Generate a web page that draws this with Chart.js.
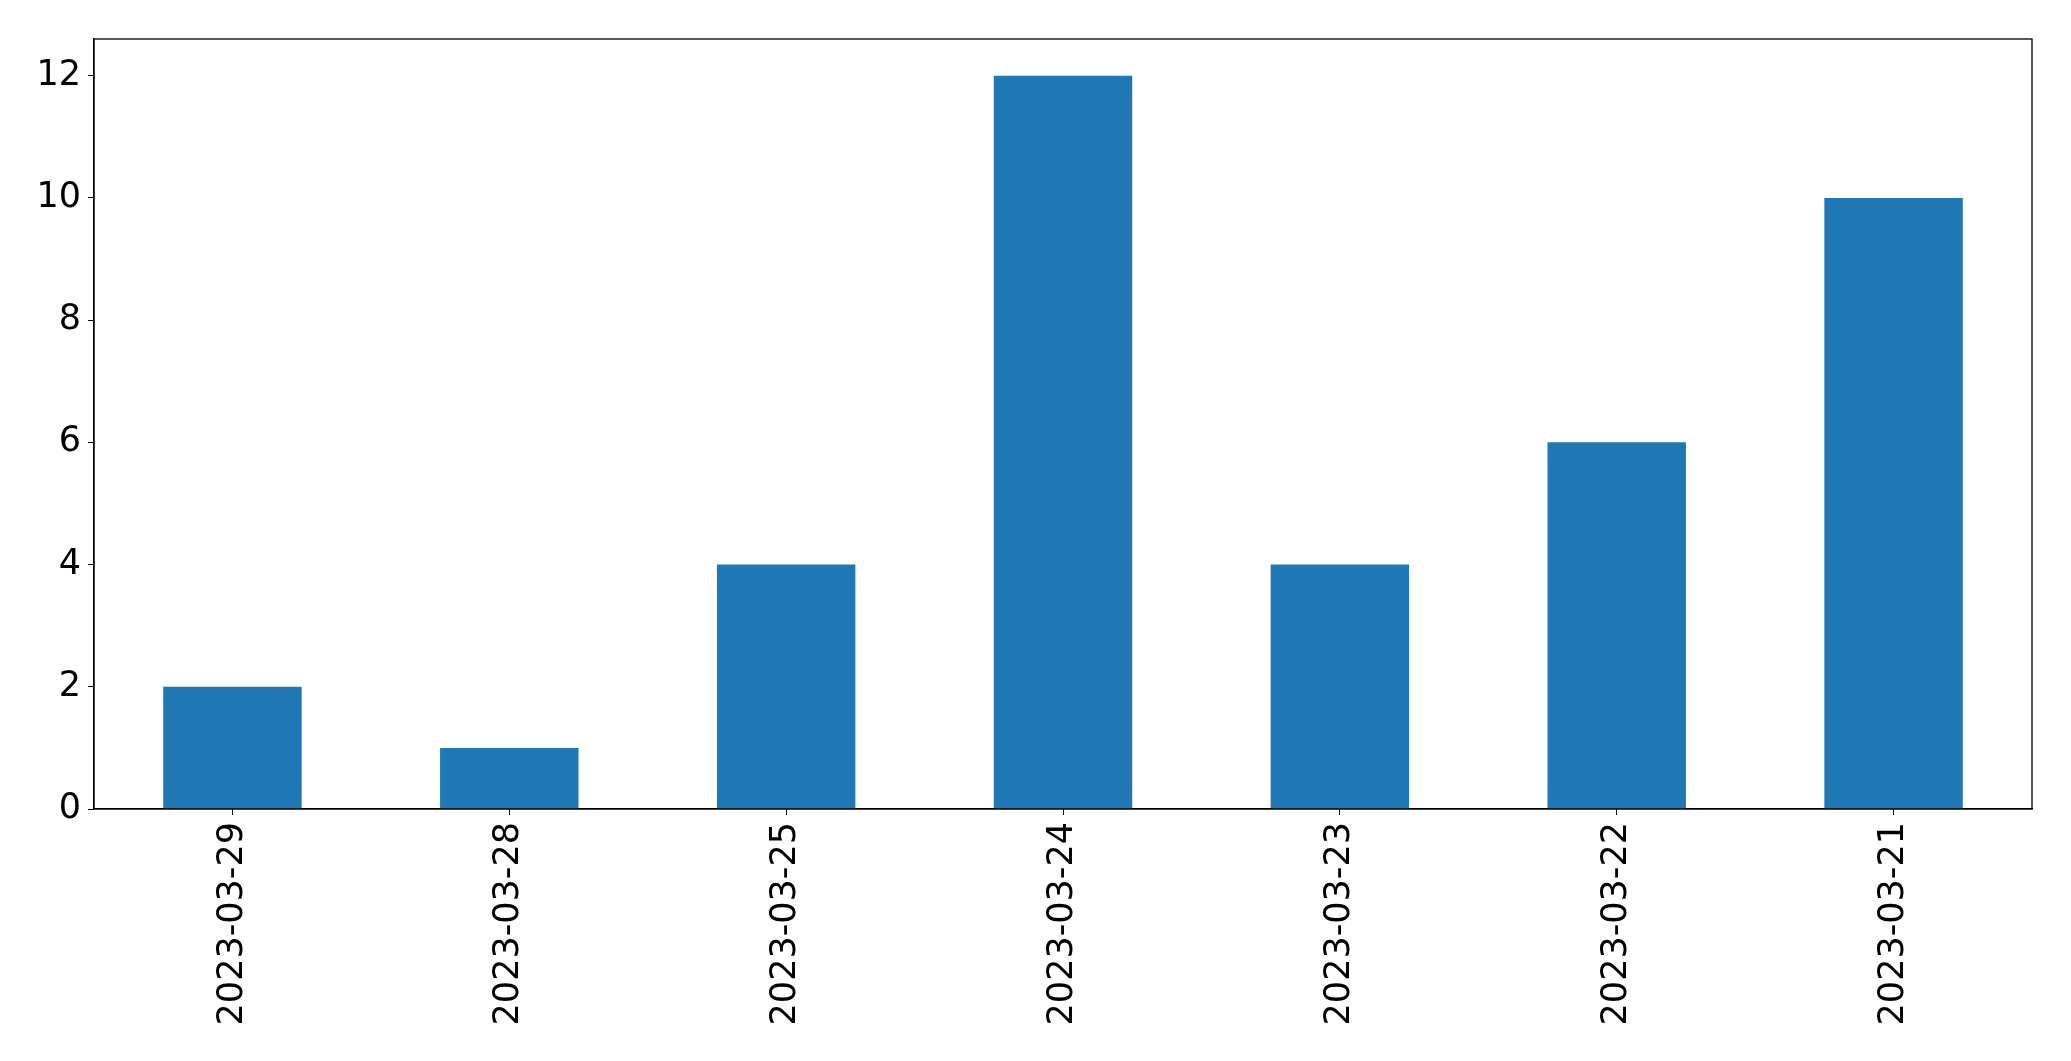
<!DOCTYPE html>
<html>
<head>
<meta charset="utf-8">
<script src="https://cdn.jsdelivr.net/npm/chart.js@4"></script>
<style>
  body { margin: 0; background: #fff; }
</style>
</head>
<body>
<canvas id="bars" width="2071" height="1061"></canvas>
<script>
var dates = [
  "2023-03-29",
  "2023-03-28",
  "2023-03-25",
  "2023-03-24",
  "2023-03-23",
  "2023-03-22",
  "2023-03-21",
];

var counts = [2, 1, 4, 12, 4, 6, 10];

var y_ticks = [0, 2, 4, 6, 8, 10, 12];

// box round the plot area, like the matplotlib frame
const frame = {
  id: "frame",
  afterDraw(chart) {
    const a = chart.chartArea;
    const c = chart.ctx;
    c.save();
    c.strokeStyle = "#000";
    c.lineWidth = 1.3;
    c.strokeRect(a.left, a.top, a.right - a.left, a.bottom - a.top);
    c.restore();
  },
};

Chart.defaults.font.family = "'DejaVu Sans'";
Chart.defaults.color = "#000";

const ctx = document.getElementById("bars");

const chart = new Chart(ctx, {
  type: "bar",
  data: {
    labels: dates,
    datasets: [
      {
        data: counts,
        backgroundColor: "#1f77b4",
        borderWidth: 0,
        barPercentage: 0.5,
        categoryPercentage: 1.0,
      },
    ],
  },
  options: {
    responsive: false,
    animation: false,
    devicePixelRatio: 1,
    layout: {
      padding: { left: 0, top: 39, right: 39, bottom: 0 },
    },
    plugins: {
      legend: { display: false },
      tooltip: { enabled: false },
    },
    scales: {
      x: {
        offset: true,
        grid: {
          display: true,
          drawOnChartArea: false,
          drawTicks: true,
          tickLength: 6,
          color: "#000",
          offset: false,
        },
        border: { display: true, color: "#000", width: 1.3 },
        ticks: {
          font: { size: 35 },
          maxRotation: 90,
          minRotation: 90,
          padding: 7,
        },
        afterFit: function (scale) {
          scale.height = 252;
        },
      },
      y: {
        min: 0,
        max: 12.6,
        grid: {
          display: true,
          drawOnChartArea: false,
          drawTicks: true,
          tickLength: 6,
          color: "#000",
        },
        border: { display: true, color: "#000", width: 1.3 },
        ticks: {
          font: { size: 35 },
          stepSize: 2,
          padding: 7,
        },
        afterBuildTicks: function (scale) {
          scale.ticks = y_ticks.map(function (v) {
            return { value: v };
          });
        },
        afterFit: function (scale) {
          scale.width = 94;
        },
      },
    },
  },
  plugins: [frame],
});
</script>
</body>
</html>
